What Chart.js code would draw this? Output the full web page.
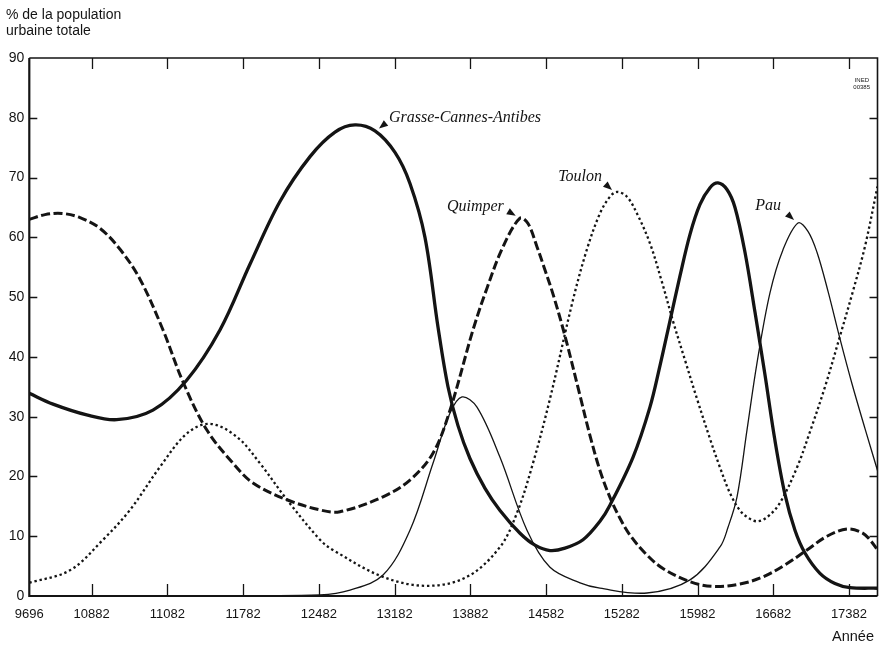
<!DOCTYPE html>
<html><head><meta charset="utf-8">
<script src="https://cdn.jsdelivr.net/npm/chart.js@4"></script>
<style>html,body{margin:0;padding:0;background:#fff}#wrap{width:886px;height:646px;position:relative}</style>
</head><body><div id="wrap"><canvas id="c" width="886" height="646"></canvas></div>
<script>
// X axis: positions in tick units (tick "10882" = 0, each following tick +1)
const tickLabels = ['9696','10882','11082','11782','12482','13182','13882','14582','15282','15982','16682','17382'];
const tickPositions = [-0.824,0,1,2,3,4,5,6,7,8,9,10];
const yTickValues = [0,10,20,30,40,50,60,70,80,90];

const grasseX = [-0.824,-0.511,-0.066,0.330,0.809,1.254,1.694,2.090,2.486,2.883,3.213,3.477,3.741,4.005,4.203,4.401,4.573,4.705,4.837,4.995,5.194,5.392,5.656,5.854,6.052,6.250,6.488,6.712,6.844,7.148,7.372,7.504,7.636,7.768,7.901,8.033,8.165,8.270,8.389,8.495,8.627,8.759,8.891,9.023,9.155,9.287,9.419,9.617,9.815,10.013,10.377];
const grasseY = [33.9,32.1,30.3,29.5,31.1,36.1,44.5,55.5,66,73.5,77.6,78.8,77.8,74.2,69,60,45,35,28.5,23,18,14.3,10.5,8.5,7.6,8.0,9.4,12.5,15.2,23.2,31.6,38.5,46,53.5,60.5,65.5,68.3,69.1,68,65,57.5,47.5,37,26,17,11,7.2,3.8,2.1,1.4,1.3];

const quimperX = [-0.824,-0.617,-0.392,-0.154,0.110,0.374,0.638,0.942,1.206,1.519,1.866,2.130,2.579,3.015,3.279,3.847,4.203,4.507,4.732,5.035,5.220,5.431,5.656,5.762,5.881,5.987,6.092,6.250,6.449,6.581,6.712,6.844,6.976,7.108,7.306,7.544,7.901,8.204,8.561,8.865,9.155,9.446,9.710,9.974,10.172,10.277,10.377];
const quimperY = [63,63.8,64,63.3,61.5,58,53,44.5,35.8,27.8,22.2,18.9,16.1,14.4,14.1,16.6,19.4,23.9,31.1,44.5,51.5,58.4,63.2,62.3,58.4,54.5,50.5,43.5,33.5,26.8,21,16.5,13,10.2,7.2,4.6,2.4,1.6,2.0,3.2,5.2,7.7,10,11.2,10.6,9.4,7.7];

const toulonX = [-0.824,-0.287,0.149,0.506,0.902,1.258,1.562,1.919,2.222,2.579,3.015,3.186,3.847,4.428,4.956,5.392,5.616,5.827,6.052,6.355,6.540,6.712,6.844,6.936,7.068,7.200,7.372,7.531,7.676,7.834,7.993,8.165,8.297,8.429,8.561,8.693,8.799,8.931,9.090,9.314,9.486,9.684,9.882,10.053,10.212,10.377];
const toulonY = [2.2,4.3,9.4,14.4,21.6,27.2,28.8,26.6,22.2,16.1,9.4,7.7,3.2,1.7,3.2,8.2,13.9,22.2,33,49.5,58,64,66.8,67.6,66.8,64,59,52.5,46,39.5,33,26.3,21.5,17.2,14.3,12.9,12.5,13.3,15.6,21.5,27.5,35,43.5,51,58.5,68.5];

const pauX = [-0.824,1.430,3.015,3.411,3.847,4.203,4.507,4.732,4.890,5.088,5.392,5.748,6.052,6.449,6.712,7.333,7.901,8.297,8.403,8.522,8.654,8.786,8.957,9.128,9.327,9.459,9.578,9.723,9.882,10.040,10.212,10.377];
const pauY = [0,0,0.2,1,3.5,11,22.2,30.6,33.3,31.6,23.2,11,4.8,2.2,1.3,0.5,2.7,8.2,11.5,16.6,27.8,39,50.7,57.9,62.4,61,57.5,51,43,35.5,28,21];

const seriesNames = ['Grasse-Cannes-Antibes','Quimper','Toulon','Pau'];

const INK = '#141414';
const pts = (xs, ys) => xs.map((x, i) => ({x, y: ys[i]}));

// label anchors (arrow tips) in data units and text offsets in px
const curveLabels = [
  {text: seriesNames[0], x: 3.794, y: 78.2, align: 'left',  dx: 10, dy: -11, dir: [1, -0.8]},
  {text: seriesNames[1], x: 5.600, y: 63.6, align: 'right', dx: -12, dy: -9, dir: [-1, -0.6]},
  {text: seriesNames[2], x: 6.871, y: 67.9, align: 'right', dx: -10, dy: -13, dir: [-1, -0.9]},
  {text: seriesNames[3], x: 9.275, y: 62.9, align: 'right', dx: -13, dy: -14, dir: [-1, -0.9]}
];

const framePlugin = {
  id: 'frame',
  afterDatasetsDraw(chart) {
    const {ctx, chartArea: a, scales: {x, y}} = chart;
    ctx.save();
    ctx.strokeStyle = INK;
    ctx.lineCap = 'butt';
    ctx.lineWidth = 1.6;
    ctx.beginPath();
    ctx.moveTo(a.left, a.top); ctx.lineTo(a.right, a.top); ctx.lineTo(a.right, a.bottom);
    ctx.stroke();
    ctx.lineWidth = 2.2;
    ctx.beginPath();
    ctx.moveTo(a.left, a.top); ctx.lineTo(a.left, a.bottom); ctx.lineTo(a.right, a.bottom);
    ctx.stroke();
    ctx.lineWidth = 1.3;
    tickPositions.forEach((p, i) => {
      if (i === 0) return;
      const px = Math.round(x.getPixelForValue(p)) + 0.5;
      ctx.beginPath();
      ctx.moveTo(px, a.bottom); ctx.lineTo(px, a.bottom - 12);
      ctx.moveTo(px, a.top); ctx.lineTo(px, a.top + 11);
      ctx.stroke();
    });
    yTickValues.forEach(v => {
      if (v === 0 || v === 90) return;
      const py = Math.round(y.getPixelForValue(v)) + 0.5;
      ctx.beginPath();
      ctx.moveTo(a.left, py); ctx.lineTo(a.left + 8, py);
      ctx.moveTo(a.right, py); ctx.lineTo(a.right - 8, py);
      ctx.stroke();
    });
    ctx.fillStyle = INK;
    ctx.font = 'italic 16px "Liberation Serif", serif';
    ctx.textBaseline = 'middle';
    curveLabels.forEach(l => {
      const tx = x.getPixelForValue(l.x), ty = y.getPixelForValue(l.y);
      ctx.textAlign = l.align;
      ctx.fillText(l.text, tx + l.dx, ty + l.dy);
      const len = Math.hypot(l.dir[0], l.dir[1]);
      const ux = l.dir[0] / len, uy = l.dir[1] / len;
      const bx = tx + ux * 9, by = ty + uy * 9;
      ctx.beginPath();
      ctx.moveTo(tx, ty);
      ctx.lineTo(bx - uy * 3.5, by + ux * 3.5);
      ctx.lineTo(bx + uy * 3.5, by - ux * 3.5);
      ctx.closePath();
      ctx.fill();
    });
    ctx.textAlign = 'left';
    ctx.textBaseline = 'alphabetic';
    ctx.font = '14px "Liberation Sans", Arial, sans-serif';
    ctx.fillText('% de la population', 6, 19);
    ctx.fillText('urbaine totale', 6, 35);
    ctx.textAlign = 'right';
    ctx.font = '14.5px "Liberation Sans", Arial, sans-serif';
    ctx.fillText('Année', 874, 641);
    ctx.font = '6px "Liberation Sans", Arial, sans-serif';
    ctx.fillText('INED', 869, 82);
    ctx.fillText('00385', 870, 89);
    ctx.restore();
  }
};

new Chart(document.getElementById('c'), {
  type: 'line',
  data: {
    datasets: [
      {label: seriesNames[0], data: pts(grasseX, grasseY), borderColor: INK, borderWidth: 3.3},
      {label: seriesNames[1], data: pts(quimperX, quimperY), borderColor: INK, borderWidth: 3, borderDash: [9, 3.5]},
      {label: seriesNames[2], data: pts(toulonX, toulonY), borderColor: INK, borderWidth: 2.3, borderDash: [2.4, 2.8]},
      {label: seriesNames[3], data: pts(pauX, pauY), borderColor: INK, borderWidth: 1.3}
    ]
  },
  options: {
    responsive: false,
    animation: false,
    devicePixelRatio: 1,
    layout: {padding: {top: 58, right: 8.5, bottom: 0, left: 0}},
    elements: {point: {radius: 0}, line: {tension: 0.35, fill: false}},
    plugins: {legend: {display: false}, tooltip: {enabled: false}},
    scales: {
      x: {
        type: 'linear', min: tickPositions[0], max: 10.377,
        grid: {display: false, drawTicks: false}, border: {display: false},
        afterBuildTicks: axis => { axis.ticks = tickPositions.map(v => ({value: v})); },
        afterFit: s => { s.height = 50; },
        ticks: {autoSkip: false, maxRotation: 0, padding: 11, color: INK,
          font: {family: '"Liberation Sans", Arial, sans-serif', size: 13},
          callback: (v, i) => tickLabels[i]}
      },
      y: {
        min: 0, max: 90,
        grid: {display: false, drawTicks: false}, border: {display: false},
        afterBuildTicks: axis => { axis.ticks = yTickValues.map(v => ({value: v})); },
        afterFit: s => { s.width = 29.3; },
        ticks: {padding: 5, color: INK,
          font: {family: '"Liberation Sans", Arial, sans-serif', size: 14}}
      }
    }
  },
  plugins: [framePlugin]
});
</script></body></html>
